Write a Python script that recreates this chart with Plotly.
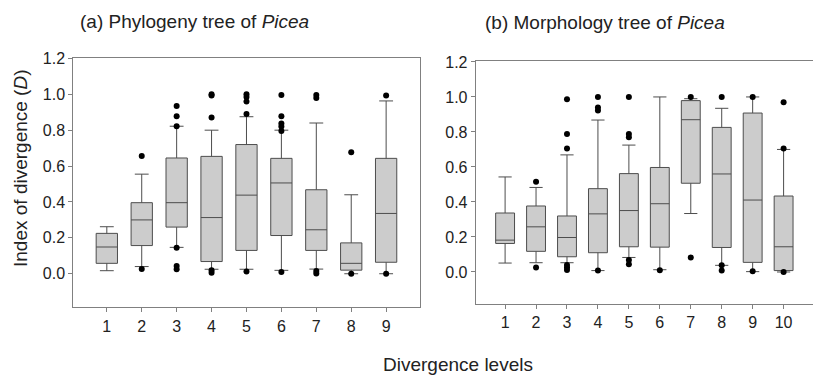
import plotly.graph_objects as go

# ---- Panel (a): Phylogeny tree of Picea ----
a_levels = [1, 2, 3, 4, 5, 6, 7, 8, 9]
a_q1 = [0.058, 0.157, 0.260, 0.068, 0.130, 0.213, 0.130, 0.020, 0.064]
a_median = [0.149, 0.300, 0.396, 0.313, 0.438, 0.506, 0.245, 0.058, 0.336]
a_q3 = [0.225, 0.396, 0.645, 0.654, 0.720, 0.643, 0.468, 0.172, 0.643]
a_low = [0.017, 0.040, 0.147, 0.025, 0.025, 0.019, 0.026, 0.000, 0.000]
a_high = [0.262, 0.555, 0.822, 0.800, 0.875, 0.800, 0.840, 0.440, 0.963]
a_out_x = [2, 2,
           3, 3, 3, 3, 3, 3,
           4, 4, 4, 4, 4,
           5, 5, 5, 5, 5,
           6, 6, 6, 6, 6, 6,
           7, 7, 7, 7,
           8, 8,
           9, 9]
a_out_y = [0.026, 0.656,
           0.145, 0.043, 0.025, 0.822, 0.878, 0.935,
           0.020, 0.005, 0.871, 0.993, 1.000,
           0.013, 0.890, 0.960, 0.985, 1.000,
           0.010, 0.796, 0.820, 0.837, 0.878, 0.996,
           0.015, 0.002, 0.980, 0.996,
           0.000, 0.677,
           0.000, 0.993]

# ---- Panel (b): Morphology tree of Picea ----
b_levels = [1, 2, 3, 4, 5, 6, 7, 8, 9, 10]
b_q1 = [0.163, 0.118, 0.087, 0.110, 0.144, 0.142, 0.507, 0.140, 0.055, 0.008]
b_median = [0.182, 0.258, 0.197, 0.332, 0.351, 0.390, 0.870, 0.560, 0.411, 0.144]
b_q3 = [0.337, 0.377, 0.320, 0.476, 0.562, 0.597, 0.979, 0.826, 0.908, 0.434]
b_low = [0.051, 0.053, 0.053, 0.008, 0.083, 0.013, 0.334, 0.038, 0.002, 0.000]
b_high = [0.543, 0.483, 0.669, 0.868, 0.725, 1.000, 0.990, 0.935, 1.000, 0.700]
b_out_x = [2, 2,
           3, 3, 3, 3, 3, 3,
           4, 4, 4, 4,
           5, 5, 5, 5, 5,
           6,
           7, 7,
           8, 8, 8,
           9, 9,
           10, 10, 10]
b_out_y = [0.025, 0.516,
           0.040, 0.025, 0.011, 0.706, 0.788, 0.987,
           0.008, 0.922, 0.940, 1.000,
           0.068, 0.044, 0.770, 0.788, 1.000,
           0.010,
           0.083, 1.000,
           0.038, 0.008, 1.000,
           0.004, 1.000,
           0.000, 0.706, 0.970]

y_ticks = [0.0, 0.2, 0.4, 0.6, 0.8, 1.0, 1.2]

FONT = "Arial, Liberation Sans, sans-serif"
BOX_FILL = "#cccccc"
BOX_LINE = "#4d4d4d"
AXIS_LINE = "#808080"

fig = go.Figure()

fig.add_trace(go.Box(
    x=a_levels, q1=a_q1, median=a_median, q3=a_q3,
    lowerfence=a_low, upperfence=a_high,
    fillcolor=BOX_FILL, line=dict(color=BOX_LINE, width=1),
    width=0.61, whiskerwidth=0.65, boxpoints=False,
    xaxis="x", yaxis="y", showlegend=False, hoverinfo="skip"))
fig.add_trace(go.Scatter(
    x=a_out_x, y=a_out_y, mode="markers",
    marker=dict(color="black", size=6),
    xaxis="x", yaxis="y", showlegend=False, hoverinfo="skip"))

fig.add_trace(go.Box(
    x=b_levels, q1=b_q1, median=b_median, q3=b_q3,
    lowerfence=b_low, upperfence=b_high,
    fillcolor=BOX_FILL, line=dict(color=BOX_LINE, width=1),
    width=0.61, whiskerwidth=0.7, boxpoints=False,
    xaxis="x2", yaxis="y2", showlegend=False, hoverinfo="skip"))
fig.add_trace(go.Scatter(
    x=b_out_x, y=b_out_y, mode="markers",
    marker=dict(color="black", size=6),
    xaxis="x2", yaxis="y2", showlegend=False, hoverinfo="skip"))

W, H = 813, 378

def px_x(p):
    return p / W

def px_y(p):
    return 1 - p / H

common_x = dict(showline=True, linecolor=AXIS_LINE, linewidth=1, mirror=True,
                ticks="outside", ticklen=4, tickcolor=AXIS_LINE,
                showgrid=False, zeroline=False, automargin=False,
                tickfont=dict(family=FONT, size=16, color="#222222"))
common_y = dict(showline=True, linecolor=AXIS_LINE, linewidth=1,
                ticks="outside", ticklen=4, tickcolor=AXIS_LINE,
                showgrid=False, zeroline=False, automargin=False,
                tickvals=y_ticks, tickformat=".1f",
                tickfont=dict(family=FONT, size=16, color="#222222"))

fig.update_layout(
    template="none",
    width=W, height=H,
    margin=dict(l=0, r=0, t=0, b=0, pad=0, autoexpand=False),
    paper_bgcolor="white", plot_bgcolor="white",
    xaxis=dict(domain=[px_x(73.3), px_x(420)], range=[0.04, 9.97],
               tickvals=a_levels, anchor="y", **common_x),
    yaxis=dict(domain=[px_y(307.3), px_y(57.5)], range=[-0.187, 1.205],
               anchor="x", mirror=True, **common_y),
    xaxis2=dict(domain=[px_x(475.7), 1.0], range=[0.05, 10.95],
                tickvals=b_levels, anchor="y2", **common_x),
    yaxis2=dict(domain=[px_y(303.5), px_y(60.7)], range=[-0.18, 1.207],
                anchor="x2", mirror=False, **common_y),
    annotations=[
        dict(text="(a) Phylogeny tree of <i>Picea</i>", xref="paper", yref="paper",
             x=px_x(78), y=px_y(22), xanchor="left", yanchor="middle",
             showarrow=False, font=dict(family=FONT, size=19, color="#222222")),
        dict(text="(b) Morphology tree of <i>Picea</i>", xref="paper", yref="paper",
             x=px_x(483), y=px_y(23), xanchor="left", yanchor="middle",
             showarrow=False, font=dict(family=FONT, size=19, color="#222222")),
        dict(text="Index of divergence (<i>D</i>)", xref="paper", yref="paper",
             x=px_x(20), y=px_y(168), xanchor="center", yanchor="middle",
             textangle=-90, showarrow=False,
             font=dict(family=FONT, size=19, color="#222222")),
        dict(text="Divergence levels", xref="paper", yref="paper",
             x=px_x(458), y=px_y(364), xanchor="center", yanchor="middle",
             showarrow=False, font=dict(family=FONT, size=19, color="#222222")),
    ],
)

fig.write_html("out.html", config={"displayModeBar": False},
               post_script="document.body.style.margin='0';document.body.style.padding='0';")
